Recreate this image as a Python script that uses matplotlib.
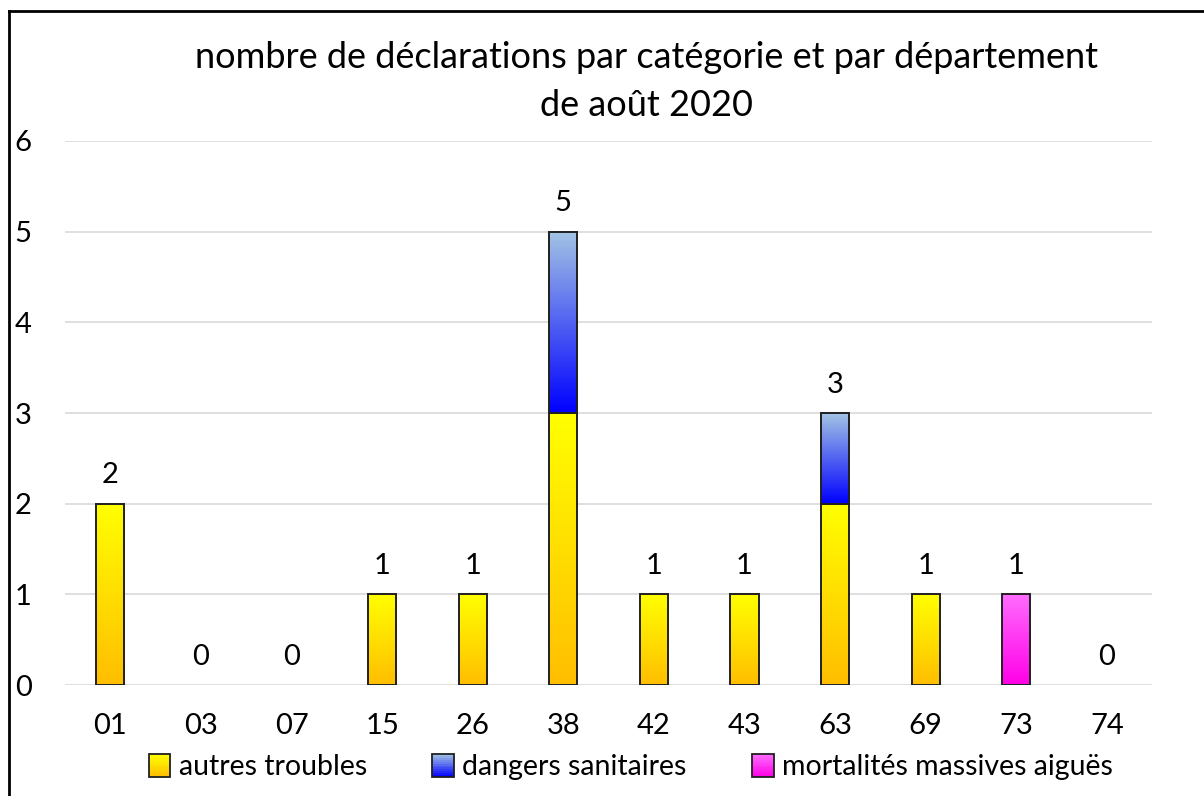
import numpy as np
import matplotlib.pyplot as plt
from matplotlib.colors import LinearSegmentedColormap, to_rgb
from matplotlib.legend_handler import HandlerBase
from matplotlib.patches import Rectangle
from matplotlib.lines import Line2D

plt.rcParams['font.family'] = ['Lato', 'DejaVu Sans']

departements = ['01', '03', '07', '15', '26', '38', '42', '43', '63', '69', '73', '74']
autres_troubles = [2, 0, 0, 1, 1, 3, 1, 1, 2, 1, 0, 0]
dangers_sanitaires = [0, 0, 0, 0, 0, 2, 0, 0, 1, 0, 0, 0]
mortalites_massives = [0, 0, 0, 0, 0, 0, 0, 0, 0, 0, 1, 0]

series = [
    ('autres troubles', autres_troubles, ('#FFFF00', '#FFBE00')),
    ('dangers sanitaires', dangers_sanitaires, ('#A3C4E4', '#0000FF')),
    ('mortalités massives aiguës', mortalites_massives, ('#FF6CFF', '#FF00E6')),
]


class GradientHandler(HandlerBase):
    def __init__(self, top, bottom, n=12):
        super().__init__()
        self.top, self.bottom, self.n = to_rgb(top), to_rgb(bottom), n

    def create_artists(self, legend, orig_handle, xdescent, ydescent, width, height, fontsize, trans):
        arts = []
        h = height / self.n
        for i in range(self.n):
            t = (i + 0.5) / self.n
            c = tuple(b + (a - b) * t for a, b in zip(self.top, self.bottom))
            arts.append(Rectangle((-xdescent, -ydescent + i * h), width, h * 1.05,
                                  facecolor=c, edgecolor='none', transform=trans))
        arts.append(Rectangle((-xdescent, -ydescent), width, height, facecolor='none',
                              edgecolor='#202020', linewidth=1.3, transform=trans))
        return arts


fig = plt.figure(figsize=(12.04, 7.96), dpi=100)
ax = fig.add_axes([0.054, 0.1394, 0.903, 0.6835])

x = np.arange(len(departements))
width = 0.31
bottom = np.zeros(len(departements))
handles, hmap = [], {}
for label, vals, (top_c, bot_c) in series:
    vals = np.array(vals, dtype=float)
    cmap = LinearSegmentedColormap.from_list(label, [bot_c, top_c])
    lws = [1.4 if v > 0 else 0 for v in vals]
    bars = ax.bar(x, vals, width, bottom=bottom, facecolor='none',
                  edgecolor='#202020', linewidth=lws, zorder=3)
    for rect, v in zip(bars, vals):
        if v <= 0:
            continue
        x0, y0 = rect.get_x(), rect.get_y()
        grad = np.linspace(0, 1, 256).reshape(-1, 1)
        im = ax.imshow(grad, cmap=cmap, origin='lower', aspect='auto',
                       extent=[x0, x0 + rect.get_width(), y0, y0 + rect.get_height()],
                       zorder=2)
        im.set_clip_path(rect)
    bottom += vals
    h = Line2D([], [])
    handles.append(h)
    hmap[h] = GradientHandler(top_c, bot_c)

for xi, total in zip(x, bottom):
    ax.annotate(f'{int(total)}', (xi, total), xytext=(0, 11), textcoords='offset points',
                ha='center', va='bottom', fontsize=21)

ax.set_xlim(-0.5, len(departements) - 0.5)
ax.set_ylim(0, 6)
ax.set_yticks(range(0, 7))
ax.set_xticks(x)
ax.set_xticklabels(departements)
ax.tick_params(axis='both', length=0, labelsize=21)
ax.tick_params(axis='y', pad=24)
ax.tick_params(axis='x', pad=20)
ax.grid(axis='y', color='#D9D9D9', linewidth=1.2, zorder=0)
ax.set_axisbelow(True)
for s in ax.spines.values():
    s.set_visible(False)

leg = fig.legend(handles, [s[0] for s in series], handler_map=hmap, loc='center',
                 bbox_to_anchor=(0.524, 0.036), ncol=3, frameon=False, fontsize=20.5,
                 handlelength=0.75, handleheight=0.85, handletextpad=0.3, columnspacing=2.3)

fig.text(0.537, 0.928, 'nombre de déclarations par catégorie et par département',
         ha='center', va='center', fontsize=26)
fig.text(0.537, 0.868, 'de août 2020', ha='center', va='center', fontsize=26)

# cadre du graphique (haut et gauche)
fig.add_artist(Line2D([0.0075, 0.0075], [0.0, 0.986], transform=fig.transFigure,
                      color='black', linewidth=2))
fig.add_artist(Line2D([0.0075, 1.0], [0.986, 0.986], transform=fig.transFigure,
                      color='black', linewidth=2))

fig.savefig('out.png', dpi=100)
